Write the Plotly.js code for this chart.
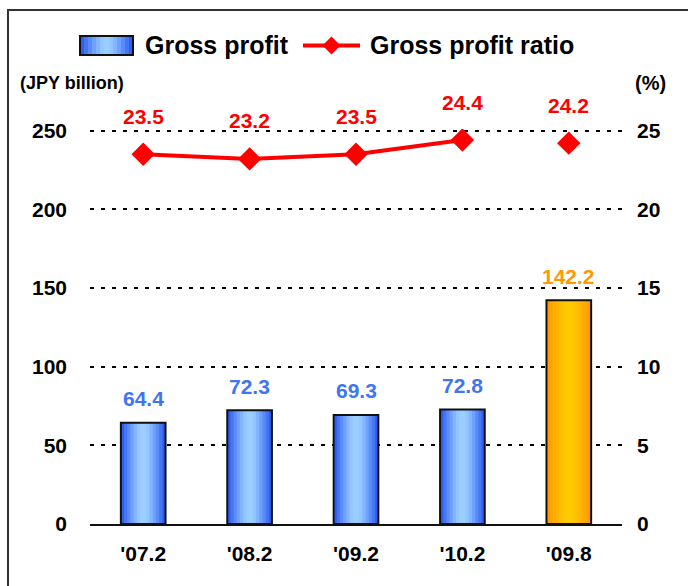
<!DOCTYPE html>
<html>
<head>
<meta charset="utf-8">
<script src="https://cdn.plot.ly/plotly-3.0.1.min.js"></script>
<style>
  html, body { margin: 0; padding: 0; background: #fff; }
  #wrap { position: relative; width: 688px; height: 586px; }
  #chart { width: 688px; height: 586px; }
  #frame { position: absolute; left: 7px; top: 9px; width: 700px; height: 600px;
           border-left: 2px solid #333; border-top: 2px solid #333; pointer-events: none; }
</style>
</head>
<body>
<div id="wrap">
  <div id="chart"></div>
  <div id="frame"></div>
</div>
<script type="text/javascript">

        // chart values
        var periods = ["'07.2", "'08.2", "'09.2", "'10.2", "'09.8"];
        var grossProfit = [64.4, 72.3, 69.3, 72.8, 142.2];
        var ratioLine = [23.5, 23.2, 23.5, 24.4, null];   // the first four are joined
        var ratioAlone = [null, null, null, null, 24.2];  // '09.8 stands on its own
        var ratioLabels = [23.5, 23.2, 23.5, 24.4, 24.2];

        var ID = document.getElementById('chart');
        var FONT = 'Liberation Sans, Arial, sans-serif';
        var tickFont = {family: FONT, size: 21, color: '#000', weight: 'bold'};

        // bars get a left-right gradient from layers of narrowing bars
        var blueSteps = ['#2f5ff2', '#4676f6', '#5b8cfa', '#70a2fd', '#82b4ff', '#93c5ff', '#9bcdff'];
        var orangeSteps = ['#ff9a00', '#ffa300', '#ffad00', '#ffb600', '#ffbf00', '#ffc600', '#ffcb00'];
        var widths = [0.42, 0.36, 0.30, 0.24, 0.18, 0.12, 0.06];

        var data = [];
        widths.forEach(function (w, i) {
            data.push({
                type: 'bar',
                x: periods,
                y: grossProfit,
                width: w,
                showlegend: false,
                hoverinfo: 'skip',
                marker: {
                    color: periods.map(function (p, k) { return k === periods.length - 1 ? orangeSteps[i] : blueSteps[i]; }),
                    line: {width: 0}
                }
            });
        });
        // outline on top
        data.push({
            type: 'bar',
            x: periods,
            y: grossProfit,
            width: 0.42,
            showlegend: false,
            marker: {color: 'rgba(0,0,0,0)', line: {width: 2, color: '#111'}}
        });

        data.push({
            type: 'scatter',
            x: periods,
            y: ratioLine,
            yaxis: 'y2',
            mode: 'lines+markers',
            showlegend: false,
            line: {color: '#ff0000', width: 4},
            marker: {symbol: 'diamond', size: 18, color: '#ff0000'},
            connectgaps: false
        });
        data.push({
            type: 'scatter',
            x: periods,
            y: ratioAlone,
            yaxis: 'y2',
            mode: 'markers',
            showlegend: false,
            marker: {symbol: 'diamond', size: 18, color: '#ff0000'}
        });

        // value labels
        var annotations = ratioLabels.map(function (v, k) {
            return {
                x: periods[k], y: v, xref: 'x', yref: 'y2',
                text: v.toFixed(1), showarrow: false, yshift: 38,
                font: {family: FONT, size: 21, color: '#ff0000', weight: 'bold'}
            };
        });
        grossProfit.forEach(function (v, k) {
            annotations.push({
                x: periods[k], y: v, xref: 'x', yref: 'y',
                text: v.toFixed(1), showarrow: false, yshift: 24,
                font: {family: FONT, size: 21, weight: 'bold',
                       color: k === periods.length - 1 ? '#ff9900' : '#3f74f2'}
            });
        });
        annotations.push({
            xref: 'paper', yref: 'paper', x: -0.136, y: 1.1165, xanchor: 'left', yanchor: 'middle',
            text: '(JPY billion)', showarrow: false,
            font: {family: FONT, size: 18, color: '#000', weight: 'bold'}
        });
        annotations.push({
            xref: 'paper', yref: 'paper', x: 1.0545, y: 1.1165, xanchor: 'center', yanchor: 'middle',
            text: '(%)', showarrow: false,
            font: {family: FONT, size: 20, color: '#000', weight: 'bold'}
        });

        // legend, drawn by hand so the keys can be as wide as in the original
        var legY = 1.2114;
        var legFont = {family: FONT, size: 25, color: '#000', weight: 'bold'};
        annotations.push({xref: 'paper', yref: 'paper', x: 0.0996, y: legY, xanchor: 'left', yanchor: 'middle',
                          text: 'Gross profit', showarrow: false, font: legFont});
        annotations.push({xref: 'paper', yref: 'paper', x: 0.5226, y: legY, xanchor: 'left', yanchor: 'middle',
                          text: 'Gross profit ratio', showarrow: false, font: legFont});

        var legendKeyWidths = [53, 45, 37, 29, 21, 13, 6];
        var shapes = legendKeyWidths.map(function (w, i) {
            return {type: 'rect', xref: 'paper', yref: 'paper', xsizemode: 'pixel', ysizemode: 'pixel',
                    xanchor: 0.031, yanchor: legY, x0: -w / 2, x1: w / 2, y0: -9.5, y1: 9.5,
                    fillcolor: blueSteps[i], line: {width: 0}};
        });
        shapes.push({type: 'rect', xref: 'paper', yref: 'paper', xsizemode: 'pixel', ysizemode: 'pixel',
                     xanchor: 0.031, yanchor: legY, x0: -26.5, x1: 26.5, y0: -9.5, y1: 9.5,
                     fillcolor: 'rgba(0,0,0,0)', line: {width: 2, color: '#111'}});
        shapes.push({type: 'line', xref: 'paper', yref: 'paper', x0: 0.4004, x1: 0.5075, y0: legY, y1: legY,
                     line: {width: 4, color: '#ff0000'}});
        shapes.push({type: 'path', xref: 'paper', yref: 'paper', xsizemode: 'pixel', ysizemode: 'pixel',
                     xanchor: 0.4539, yanchor: legY, path: 'M -9 0 L 0 9 L 9 0 L 0 -9 Z',
                     fillcolor: '#ff0000', line: {width: 0}});

        var layout = {
            width: 688,
            height: 586,
            margin: {l: 90, r: 66, t: 129, b: 62},
            paper_bgcolor: '#fff',
            plot_bgcolor: '#fff',
            barmode: 'overlay',
            showlegend: false,
            xaxis: {
                type: 'category',
                tickfont: tickFont,
                showline: true, linecolor: '#111', linewidth: 2,
                ticks: '', ticklabelstandoff: 10,
                showgrid: false, fixedrange: true
            },
            yaxis: {
                range: [0, 251], tickvals: [0, 50, 100, 150, 200, 250],
                tickfont: tickFont,
                showgrid: true, gridcolor: '#000', gridwidth: 2, griddash: '4px,7px',
                zeroline: false, showline: false, ticks: '', ticklabelstandoff: 22,
                fixedrange: true
            },
            yaxis2: {
                range: [0, 25.1], tickvals: [0, 5, 10, 15, 20, 25],
                overlaying: 'y', side: 'right',
                tickfont: tickFont,
                showgrid: false, zeroline: false, showline: false, ticks: '', ticklabelstandoff: 14,
                fixedrange: true
            },
            annotations: annotations,
            shapes: shapes
        };

        Plotly.newPlot(ID, data, layout, {displayModeBar: false, staticPlot: true});
</script>
</body>
</html>
